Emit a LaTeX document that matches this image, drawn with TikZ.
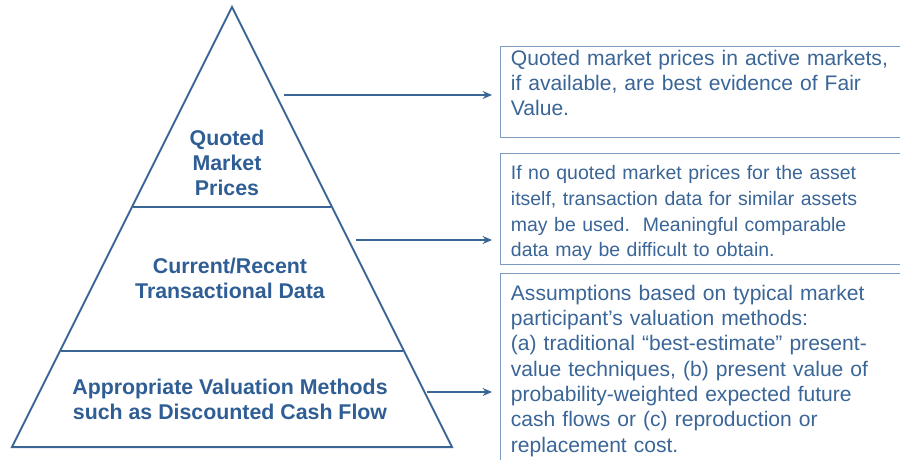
\documentclass[tikz,border=0pt]{standalone}
\usepackage{fontspec}
\setmainfont{Liberation Sans}
\usetikzlibrary{arrows.meta}
\definecolor{pyrline}{HTML}{3A6597}
\definecolor{boxline}{HTML}{7D9BC1}
\definecolor{pyrtext}{HTML}{2F5E95}
\definecolor{notetext}{HTML}{3A6597}
\tikzset{
  level label/.style={text=pyrtext, font=\bfseries\fontsize{16}{18.75}\selectfont, align=center, inner sep=0pt},
  note box/.style={draw=boxline, line width=1.1pt, minimum width=315pt, anchor=north west, inner sep=0pt},
  note text/.style={text=notetext, font=\fontsize{15.8}{18.75}\selectfont, text width=300pt, align=left, anchor=north west, inner xsep=8pt, inner ysep=0pt},
  level arrow/.style={draw=pyrline, line width=1.1pt, -{Stealth[length=7pt,width=6pt]}, shorten >=6pt}
}
\begin{document}
\begin{tikzpicture}[x=0.75pt,y=0.75pt,yscale=-1,xscale=1]
\useasboundingbox (0,0) rectangle (900,460);

%Shape: Triangle
\coordinate (apex) at (232,7);
\coordinate (baseL) at (12,447);
\coordinate (baseR) at (452,447);
\draw [pyrline, line width=1.5pt, line join=miter] (apex) -- (baseR) -- (baseL) -- cycle;
%Straight Lines
\draw [pyrline, line width=1.5pt] (133,207) -- (331,207);
%Straight Lines
\draw [pyrline, line width=1.5pt] (61,351) -- (403,351);

%Levels
\node [level label] (quoted) at (227,163) {Quoted\\Market\\Prices};
\node [level label] (recent) at (230,278.5) {Current/Recent\\Transactional Data};
\node [level label] (methods) at (230,399.5) {Appropriate Valuation Methods\\such as Discounted Cash Flow};

%Shape: Rectangle
\node [note box, minimum height=68.25pt] (fvbox) at (500,46) {};
\node [note box, minimum height=83.25pt] (databox) at (500,153) {};
\node [note box, minimum height=155.25pt] (assumbox) at (500,273) {};

%Notes
\node [note text] (fvtext) at ([yshift=2.8pt]fvbox.north west) {Quoted market prices in active markets,\\if available, are best evidence of Fair\\Value.};
\node [note text, font=\fontsize{14.6}{19.3}\selectfont] (datatext) at ([yshift=9.2pt]databox.north west) {If no quoted market prices for the asset\\itself, transaction data for similar assets\\may be used.\ \ Meaningful comparable\\data may be difficult to obtain.};
\node [note text, font=\fontsize{15.8}{19}\selectfont] (assumtext) at ([yshift=8.8pt]assumbox.north west) {Assumptions based on typical market\\participant’s valuation methods:\\(a) traditional “best-estimate” present-\\value techniques, (b) present value of\\probability-weighted expected future\\cash flows or (c) reproduction or\\replacement cost.};

%Straight Lines
\coordinate (fvstart) at (284,95);
\draw [level arrow] (fvstart) -- (fvstart -| fvbox.west);
%Straight Lines
\coordinate (datastart) at (356,240);
\draw [level arrow] (datastart) -- (datastart -| databox.west);
%Straight Lines
\coordinate (assumstart) at (427,392);
\draw [level arrow] (assumstart) -- (assumstart -| assumbox.west);

\end{tikzpicture}
\end{document}
